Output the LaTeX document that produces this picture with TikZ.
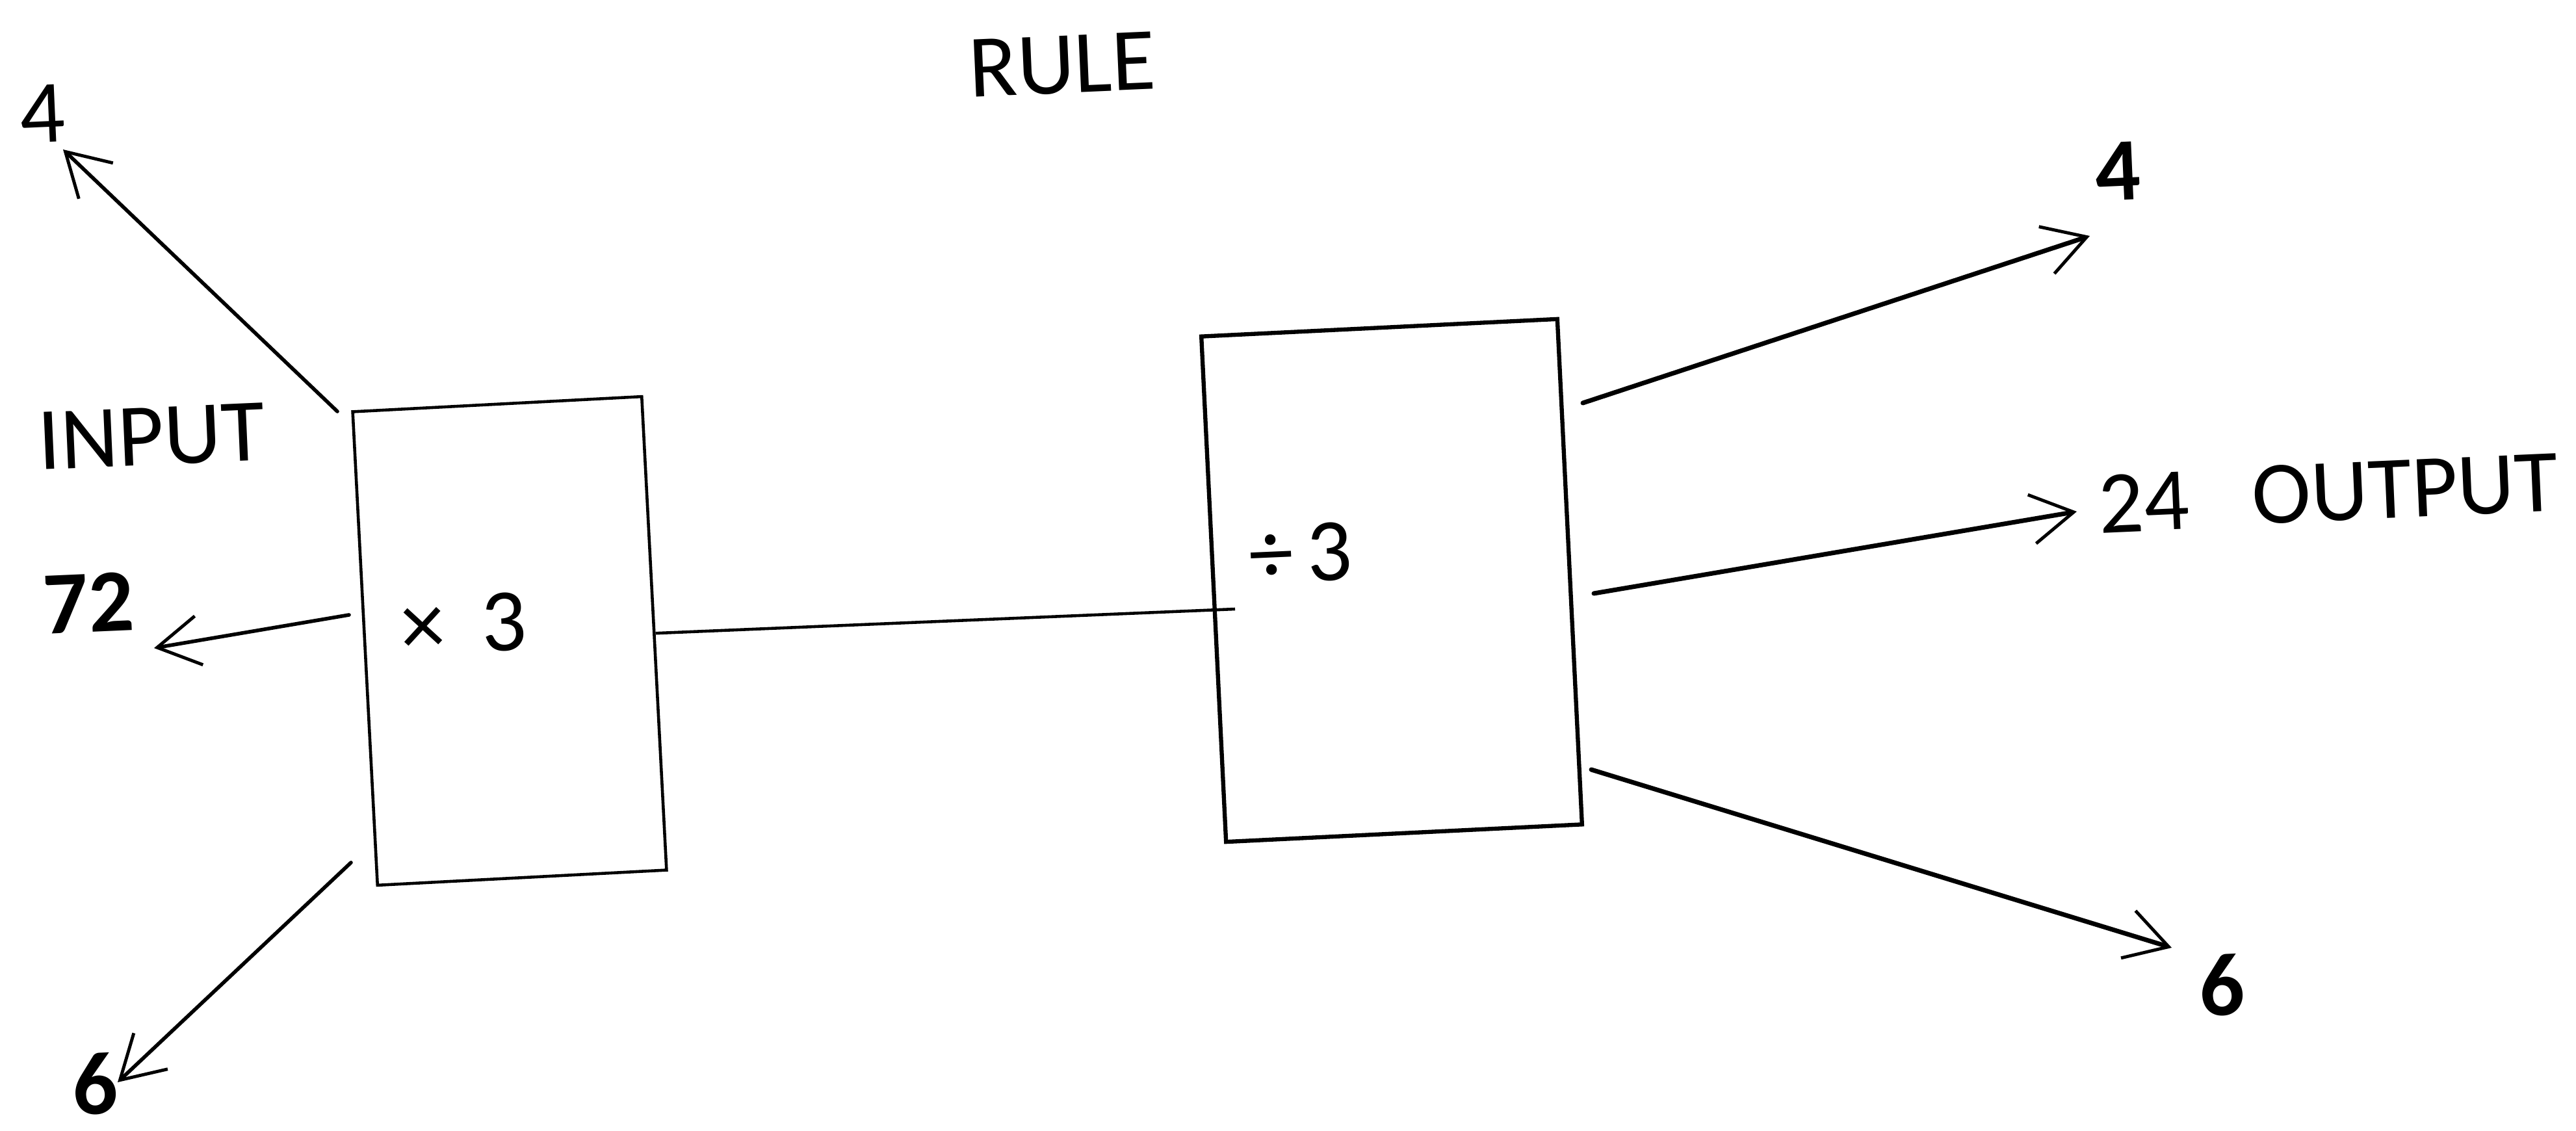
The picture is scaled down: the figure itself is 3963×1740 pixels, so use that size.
\documentclass[tikz,border=0pt]{standalone}
\usepackage{fontspec}
\setmainfont{Carlito}
\usetikzlibrary{arrows.meta}
\begin{document}
\begin{tikzpicture}[x=0.01cm,y=-0.01cm,
  lbl/.style={inner sep=0pt, anchor=base, rotate=2.5, font=\fontsize{39}{47}\selectfont},
  blbl/.style={lbl, font=\fontsize{39}{47}\selectfont\bfseries},
  rulebox/.style={draw, rectangle, inner sep=0pt},
  barb/.style={-{Straight Barb[length=6.5mm,width=7.6mm,line width=1.4pt]}},
  thinarrow/.style={barb, line width=1.6pt, line cap=round},
  thickarrow/.style={barb, line width=2pt, line cap=round}
]
\useasboundingbox (0,0) rectangle (3963,1740);

% boxes
\node[rulebox, line width=1.3pt, minimum width=4.45cm, minimum height=7.29cm, rotate=3] (lbox) at (784,986) {};
\node[rulebox, line width=1.8pt, minimum width=5.48cm, minimum height=7.78cm, rotate=2.8] (rbox) at (2141,893) {};

% texts
\node[lbl] (rule) at (1636,143) {RULE};
\node[lbl] (input) at (235,715) {INPUT};
\node[lbl] (in4) at (67,219) {4};
\node[blbl] (in72) at (138,972) {72};
\node[blbl] (in6) at (148,1714) {6};
\node[lbl] (times) at (715,1004) {×\hspace{16pt}3};
\node[lbl] (divide) at (2003,895) {÷\hspace{6pt}3};
\node[blbl] (out4) at (3260,308) {4};
\node[lbl] (out24) at (3300,817) {24};
\node[lbl] (output) at (3702,796) {OUTPUT};
\node[blbl] (out6) at (3420,1562) {6};

% connector ends
\coordinate (a1s) at (519,633);   \coordinate (a1e) at (97,230);
\coordinate (a2s) at (537,946);   \coordinate (a2e) at (237,997);
\coordinate (a3s) at (540,1327);  \coordinate (a3e) at (181,1665);
\coordinate (b1s) at (2435,620);  \coordinate (b1e) at (3215,363);
\coordinate (b2s) at (2452,913);  \coordinate (b2e) at (3195,787);
\coordinate (b3s) at (2448,1184); \coordinate (b3e) at (3341,1458);
\coordinate (cend) at (1900,937);

% connectors
\draw[thinarrow] (a1s) -- (a1e);
\draw[thinarrow] (a2s) -- (a2e);
\draw[thinarrow] (a3s) -- (a3e);
\draw[thickarrow] (b1s) -- (b1e);
\draw[thickarrow] (b2s) -- (b2e);
\draw[thickarrow] (b3s) -- (b3e);
\draw[line width=1.3pt] (lbox.east) -- (cend);
\end{tikzpicture}
\end{document}
